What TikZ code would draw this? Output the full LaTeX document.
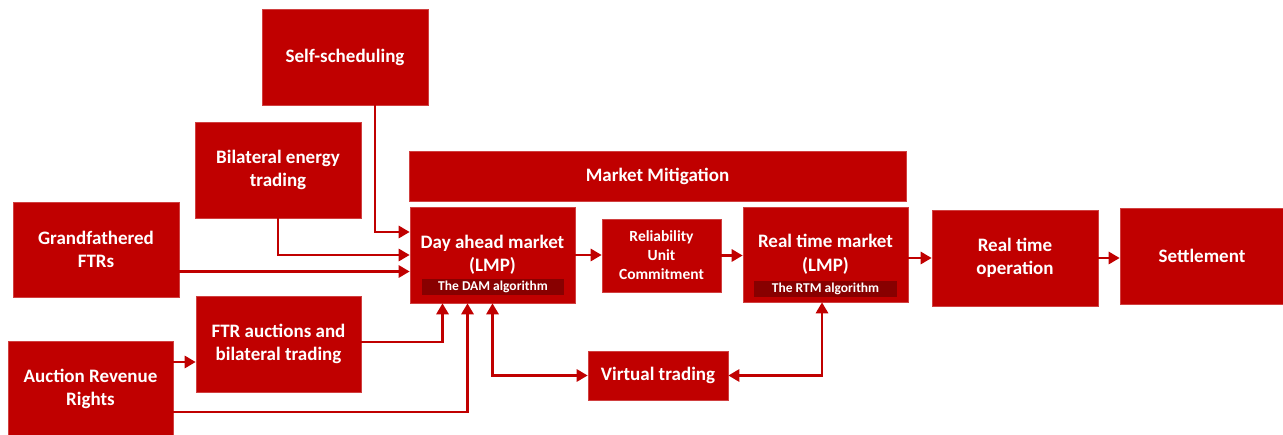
\documentclass[tikz,border=0pt]{standalone}
\usepackage{fontspec}
\setmainfont{Carlito}
\usetikzlibrary{arrows.meta}
\definecolor{boxred}{HTML}{C00000}
\definecolor{tagred}{HTML}{880000}
\begin{document}
\begin{tikzpicture}[x=1pt,y=-1pt,>={Triangle[length=11pt,width=12pt]}]
\useasboundingbox (0,0) rectangle (1283,435);
\begin{scope}[every node/.style={rectangle,fill=boxred,draw=boxred!75!white,line width=0.6pt,text=white,align=center,inner sep=0pt,font=\fontsize{19}{23.5}\selectfont\bfseries}]
	\node[minimum width=166,minimum height=96] (ss) at (345,57) {Self-scheduling};
	\node[minimum width=166,minimum height=96] (bet) at (278,170) {Bilateral energy\\trading};
	\node[minimum width=166,minimum height=95] (gf) at (96,249.5) {Grandfathered\\FTRs};
	\node[minimum width=165,minimum height=96] (arr) at (90.5,389) {Auction Revenue\\Rights};
	\node[minimum width=165,minimum height=96] (ftr) at (278.5,344) {FTR auctions and\\bilateral trading};
	\node[minimum width=497,minimum height=50] (mm) at (657.5,176) {Market Mitigation};
	\node[minimum width=165,minimum height=96] (dam) at (492.5,255) {Day ahead market\\(LMP)};
	\node[minimum width=119,minimum height=73,font=\fontsize{15.5}{19}\selectfont\bfseries] (ruc) at (661.5,255.5) {Reliability\\Unit\\Commitment};
	\node[minimum width=165,minimum height=95] (rtm) at (825.5,254.5) {Real time market\\(LMP)};
	\node[minimum width=166,minimum height=96] (rto) at (1015,258) {Real time\\operation};
	\node[minimum width=164,minimum height=96] (set) at (1202,256) {Settlement};
	\node[minimum width=140,minimum height=49] (vt) at (658,375.5) {Virtual trading};
	% algorithm tags
	\node[fill=tagred,draw=none,minimum width=142,minimum height=16,font=\fontsize{13.5}{16}\selectfont\bfseries] (damalg) at (493,287) {The DAM algorithm};
	\node[fill=tagred,draw=none,minimum width=143,minimum height=16,font=\fontsize{13.5}{16}\selectfont\bfseries] (rtmalg) at (825.5,289) {The RTM algorithm};
\end{scope}

\begin{scope}[every edge/.style={draw=boxred,line width=2.8pt},line width=2.8pt,draw=boxred]
	\draw [->] ([xshift=30pt]ss.south) |- ([yshift=23pt]dam.west);
	\draw [->] (bet.south) |- (dam.west);
	\path [->] ([yshift=-22pt]gf.east) edge ([yshift=-22pt]gf.east -| dam.west);
	\path [->] ([yshift=27pt]arr.east) edge ([yshift=27pt]arr.east -| ftr.west);
	\draw [->] ([yshift=-23pt]arr.east) -| ([xshift=-25pt]dam.south);
	\draw [->] ([yshift=2pt]ftr.east) -| ([xshift=-50pt]dam.south);
	\draw [<->] (dam.south) |- (vt.west);
	\draw [<->] ([xshift=-3.5pt]rtm.south) |- (vt.east);
	\path [->] (dam.east) edge (dam.east -| ruc.west);
	\path [->] (ruc.east) edge (ruc.east -| rtm.west);
	\path [->] (rtm.east |- rto.west) edge (rto.west);
	\path [->] (rto.east) edge (rto.east -| set.west);
\end{scope}
\end{tikzpicture}
\end{document}
